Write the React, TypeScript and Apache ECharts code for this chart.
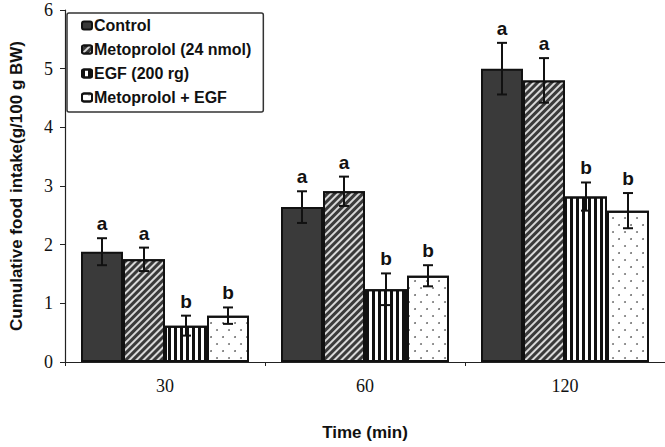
import React, { useEffect, useRef } from "react";
import * as echarts from "echarts";

const categories = ["30", "60", "120"];
const seriesNames = ["Control", "Metoprolol (24 nmol)", "EGF (200 rg)", "Metoprolol + EGF"];
const controlMeans = [1.88, 2.64, 5.0];
const controlErrors = [0.23, 0.27, 0.44];
const metoprololMeans = [1.75, 2.91, 4.8];
const metoprololErrors = [0.2, 0.25, 0.38];
const egfMeans = [0.62, 1.24, 2.82];
const egfErrors = [0.17, 0.27, 0.24];
const comboMeans = [0.79, 1.47, 2.58];
const comboErrors = [0.14, 0.18, 0.3];
const letters = [
  ["a", "a", "b", "b"],
  ["a", "a", "b", "b"],
  ["a", "a", "b", "b"],
];
const yTicks = [0, 1, 2, 3, 4, 5, 6];

const CAT_GAP = 0.16;

export default function App() {
  const ref = useRef<HTMLDivElement>(null);
  useEffect(() => {
    if (!ref.current) return;
    const chart = echarts.init(ref.current, null, { renderer: "svg" });
    const means = [controlMeans, metoprololMeans, egfMeans, comboMeans];
    const errs = [controlErrors, metoprololErrors, egfErrors, comboErrors];
    const errData: any[] = [];
    for (let c = 0; c < categories.length; c++) {
      for (let s = 0; s < 4; s++) {
        errData.push([c, s, means[s][c], errs[s][c]]);
      }
    }
    const decals: any[] = [
      undefined,
      {
        symbol: "rect",
        color: "rgba(255,255,255,0.8)",
        dashArrayX: [1, 0],
        dashArrayY: [1.2, 2.8],
        rotation: -Math.PI / 4,
      },
      {
        symbol: "rect",
        color: "#111",
        dashArrayX: [2.5, 3],
        dashArrayY: [1, 0],
        rotation: 0,
      },
      {
        symbol: "circle",
        symbolSize: 0.9,
        color: "#666",
        dashArrayX: [[2, 10], [0, 6, 2, 4]],
        dashArrayY: [2, 4.5],
        rotation: 0,
      },
    ];
    const fills = ["#3a3a3a", "#3a3a3a", "#ffffff", "#ffffff"];
    const barSeries = seriesNames.map((name, i) => ({
      name,
      type: "bar",
      data: means[i],
      barGap: "0%",
      barCategoryGap: (CAT_GAP * 100).toFixed(0) + "%",
      itemStyle: {
        color: fills[i],
        borderColor: "#111",
        borderWidth: 2,
        decal: decals[i],
      },
      z: 2,
    }));
    chart.setOption({
      animation: false,
      grid: { left: 60, right: 0, top: 10, bottom: 85 },
      legend: {
        orient: "vertical",
        left: 67,
        top: 13,
        width: 193,
        height: 95,
        padding: [4, 12, 6, 14],
        itemGap: 7,
        itemWidth: 10,
        itemHeight: 8,
        borderColor: "#333",
        borderWidth: 1.5,
        borderRadius: 2,
        backgroundColor: "#fff",
        data: seriesNames,
        textStyle: {
          fontFamily: "Liberation Sans, Arial",
          fontWeight: "bold",
          fontSize: 16,
          color: "#111",
          padding: [0, 0, 0, -3],
          lineHeight: 17,
        },
      },
      xAxis: {
        type: "category",
        data: categories,
        name: "Time (min)",
        nameLocation: "middle",
        nameGap: 62,
        nameTextStyle: {
          fontFamily: "Liberation Sans, Arial",
          fontWeight: "bold",
          fontSize: 17,
          color: "#111",
        },
        axisLine: { lineStyle: { color: "#222", width: 1.2 } },
        axisTick: { show: true, length: 4, lineStyle: { color: "#222" } },
        axisLabel: {
          fontFamily: "Liberation Serif, Times New Roman",
          fontSize: 18,
          color: "#111",
          margin: 15,
        },
      },
      yAxis: {
        type: "value",
        min: 0,
        max: 6,
        interval: 1,
        name: "Cumulative food intake(g/100 g BW)",
        nameLocation: "middle",
        nameGap: 40,
        nameTextStyle: {
          fontFamily: "Liberation Sans, Arial",
          fontWeight: "bold",
          fontSize: 17,
          color: "#111",
        },
        axisLine: { show: true, lineStyle: { color: "#222", width: 1.2 } },
        axisTick: { show: true, length: 5, lineStyle: { color: "#222" } },
        splitLine: { show: false },
        axisLabel: {
          fontFamily: "Liberation Serif, Times New Roman",
          fontSize: 18,
          color: "#111",
          margin: 12,
          formatter: (v: number) => (yTicks.includes(v) ? String(v) : ""),
        },
      },
      series: [
        ...barSeries,
        {
          type: "custom",
          data: errData,
          encode: { x: 0, y: 2 },
          z: 10,
          silent: true,
          renderItem: (params: any, api: any) => {
            const c = api.value(0);
            const s = api.value(1);
            const m = api.value(2);
            const e = api.value(3);
            const letter = letters[c][s];
            const band = api.size([1, 0])[0];
            const bw = (band * (1 - CAT_GAP)) / 4;
            const center = api.coord([c, m]);
            const x = center[0] + (s - 1.5) * bw;
            const yTop = api.coord([c, m + e])[1];
            const yBot = api.coord([c, m - e])[1];
            const capW = 5;
            const ls = { stroke: "#111", lineWidth: 2 };
            return {
              type: "group",
              children: [
                { type: "line", shape: { x1: x, y1: yTop, x2: x, y2: yBot }, style: ls },
                { type: "line", shape: { x1: x - capW, y1: yTop, x2: x + capW, y2: yTop }, style: ls },
                { type: "line", shape: { x1: x - capW, y1: yBot, x2: x + capW, y2: yBot }, style: ls },
                {
                  type: "text",
                  style: {
                    text: letter,
                    x: x,
                    y: yTop - 5,
                    align: "center",
                    verticalAlign: "bottom",
                    fontFamily: "Liberation Sans, Arial",
                    fontWeight: "bold",
                    fontSize: 19,
                    fill: "#111",
                  },
                },
              ],
            };
          },
        },
      ],
    });
    return () => chart.dispose();
  }, []);
  return <div ref={ref} style={{ width: 665, height: 447, position: "absolute", left: 0, top: 0, background: "#fff" }} />;
}
